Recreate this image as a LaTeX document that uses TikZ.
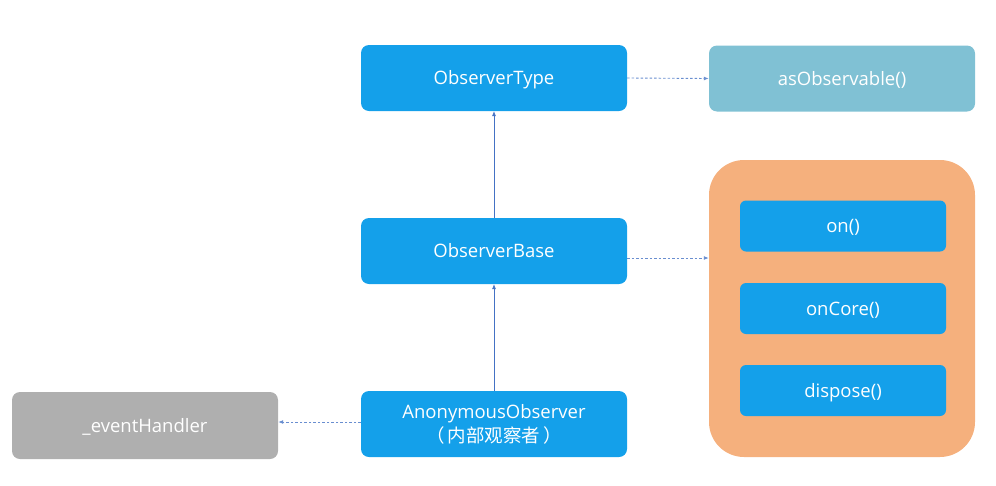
\documentclass[tikz,border=0pt]{standalone}
\usepackage{fontspec}
\setmainfont{Open Sans}
\newfontfamily\cjk{Noto Sans CJK SC}
\usetikzlibrary{arrows.meta}
\definecolor{bluebox}{HTML}{14A0EA}
\definecolor{tealbox}{HTML}{80C1D4}
\definecolor{graybox}{HTML}{AFAFAF}
\definecolor{orangebox}{HTML}{F5B07D}
\definecolor{linecol}{HTML}{4472C4}
\begin{document}
\begin{tikzpicture}[x=1pt,y=-1pt,
  box/.style={rounded corners=8pt, minimum width=266pt, minimum height=66pt, text=white, font=\fontsize{18.5}{24}\selectfont, align=center, inner sep=0pt},
  oneline/.style={text height=16pt, text depth=2.8pt},
  inbox/.style={rounded corners=6pt, fill=bluebox, minimum width=206pt, minimum height=51pt, text=white, font=\fontsize{18.5}{24}\selectfont, inner sep=0pt, oneline},
  solidarr/.style={draw=linecol, line width=0.6pt, -{Latex[length=5pt,width=4pt]}},
  dasharr/.style={draw=linecol!80, line width=0.9pt, dash pattern=on 2.5pt off 2pt, -{Latex[length=5pt,width=4pt]}}]
\useasboundingbox (0,0) rectangle (996,485);
\node[box, oneline, fill=bluebox] (type) at (494,78) {ObserverType};
\node[box, oneline, fill=tealbox] (asobs) at (842,78.5) {asObservable()};
\node[box, oneline, fill=bluebox] (base) at (494,251) {ObserverBase};
\node[box, fill=bluebox] (anon) at (494,424) {\raisebox{-2pt}{\shortstack{AnonymousObserver\\[1pt]{\cjk （\,内部观察者\,）}}}};
\node[box, oneline, fill=graybox, minimum height=67pt] (handler) at (145,425.5) {\_eventHandler};
\node[rounded corners=35pt, fill=orangebox, minimum width=266pt, minimum height=297pt, inner sep=0pt] (group) at (842,308.5) {};
\node[inbox] (on) at (843,226) {on()};
\node[inbox] (oncore) at (843,308.5) {onCore()};
\node[inbox] (dispose) at (843,390.5) {dispose()};
\coordinate (bs) at ([yshift=-7pt]base.east);
\coordinate (as) at ([yshift=2pt]anon.west);
\draw[solidarr] (base.north) -- (type.south);
\draw[solidarr] (anon.north) -- (base.south);
\draw[dasharr] (type.east) -- (asobs.west);
\draw[dasharr] (bs) -- (group.west |- bs);
\draw[dasharr] (as) -- (handler.east |- as);
\end{tikzpicture}
\end{document}
